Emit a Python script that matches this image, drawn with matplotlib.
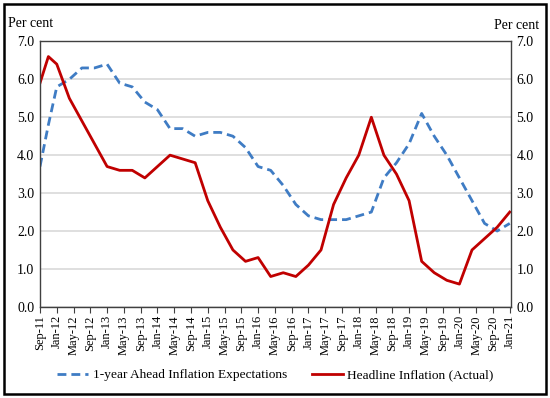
import numpy as np
import matplotlib
matplotlib.use('Agg')
import matplotlib.pyplot as plt
from matplotlib.patches import Rectangle

plt.rcParams['font.family'] = ['Liberation Serif', 'DejaVu Serif']

# months counted from Sep-11
months = [0, 2, 4, 7, 10, 13, 16, 19, 22, 25, 28, 31, 34, 37, 40, 43, 46, 49, 52,
          55, 58, 61, 64, 67, 70, 73, 76, 79, 82, 85, 88, 91, 94, 97, 100, 103,
          106, 109, 112]
expectations = [3.7, 4.8, 5.8, 6.0, 6.3, 6.3, 6.4, 5.9, 5.8, 5.4, 5.2, 4.7, 4.7,
                4.5, 4.6, 4.6, 4.5, 4.2, 3.7, 3.6, 3.2, 2.7, 2.4, 2.3, 2.3, 2.3,
                2.4, 2.5, 3.4, 3.8, 4.3, 5.1, 4.5, 4.0, 3.4, 2.8, 2.2, 2.0, 2.2]
headline = [5.9, 6.6, 6.4, 5.5, 4.9, 4.3, 3.7, 3.6, 3.6, 3.4, 3.7, 4.0, 3.9, 3.8,
            2.8, 2.1, 1.5, 1.2, 1.3, 0.8, 0.9, 0.8, 1.1, 1.5, 2.7, 3.4, 4.0, 5.0,
            4.0, 3.5, 2.8, 1.2, 0.9, 0.7, 0.6, 1.5, 1.8, 2.1, 2.5]

tick_months = list(range(0, 113, 4))
tick_labels = ['Sep-11', 'Jan-12', 'May-12', 'Sep-12', 'Jan-13', 'May-13', 'Sep-13',
               'Jan-14', 'May-14', 'Sep-14', 'Jan-15', 'May-15', 'Sep-15', 'Jan-16',
               'May-16', 'Sep-16', 'Jan-17', 'May-17', 'Sep-17', 'Jan-18', 'May-18',
               'Sep-18', 'Jan-19', 'May-19', 'Sep-19', 'Jan-20', 'May-20', 'Sep-20',
               'Jan-21']
y_ticks = [0, 1, 2, 3, 4, 5, 6, 7]

fig = plt.figure(figsize=(5.5, 3.98), dpi=100)
ax = fig.add_axes([0.0727, 0.229, 0.8564, 0.667])

ax.plot(months, expectations, color='#3F7CC4', lw=2.0, ls=(0, (3.2, 1.8)),
        label='1-year Ahead Inflation Expectations')
ax.plot(months, headline, color='#C00000', lw=2.0,
        label='Headline Inflation (Actual)')

ax.set_xlim(0, 112.3)
ax.set_ylim(0, 7)
ax.set_yticks(y_ticks)
ax.set_yticklabels(['%.1f' % v for v in y_ticks])
ax.set_xticks(tick_months)
ax.set_xticklabels(tick_labels, rotation=90)
ax.tick_params(axis='x', length=4, width=0.8, color='#404040', labelsize=9, pad=2)
ax.tick_params(axis='y', length=0, labelsize=10, pad=4, right=True, labelright=True)
ax.grid(axis='y', color='#D9D9D9', lw=1.2)
ax.set_axisbelow(True)
for s in ax.spines.values():
    s.set_color('#404040')
    s.set_linewidth(1.0)

fig.text(0.015, 0.925, 'Per cent', fontsize=10, ha='left', va='bottom')
fig.text(0.98, 0.92, 'Per cent', fontsize=10, ha='right', va='bottom')

ax.legend(loc='center', bbox_to_anchor=(0.5, -0.257), ncol=2, frameon=False,
          fontsize=9.6, handlelength=2.3, columnspacing=1.9, handletextpad=0.35)

fig.patches.append(Rectangle((0.007, 0.01), 0.986, 0.98, transform=fig.transFigure,
                             fill=False, ec='black', lw=1.8))

fig.savefig('out.png', dpi=100)
